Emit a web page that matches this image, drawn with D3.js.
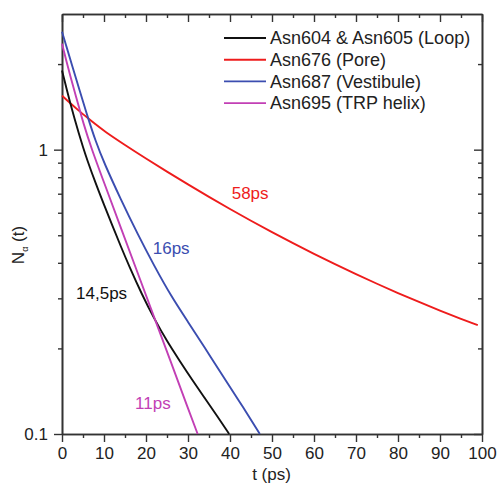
<!DOCTYPE html>
<html>
<head>
<meta charset="utf-8">
<script src="https://cdn.jsdelivr.net/npm/d3@7/dist/d3.min.js"></script>
<style>
  html, body { margin: 0; padding: 0; background: #fff; }
  svg { display: block; }
  text { font-family: "Liberation Sans", Arial, sans-serif; }
</style>
</head>
<body>
<svg id="chart" width="497" height="485"></svg>
<script>
// Survival curves N_alpha(t) of water around selected asparagine residues
const seriesNames = ["Asn604 & Asn605 (Loop)", "Asn676 (Pore)", "Asn687 (Vestibule)", "Asn695 (TRP helix)"];
const seriesColors = ["#111111", "#ee1c1c", "#3b4db0", "#c23fb5"];

const tLoop = [0, 1, 2, 3, 4, 5, 6, 8, 10, 12, 14, 16, 19, 22, 25, 28, 31, 34, 37, 39.8];
const nLoop = [1.9, 1.656, 1.452, 1.282, 1.14, 1.021, 0.92, 0.762, 0.64, 0.54, 0.457, 0.389, 0.31, 0.2535, 0.212, 0.181, 0.155, 0.1337, 0.1153, 0.1];

const tPore = [0, 2, 4, 6, 8, 10, 15, 20, 25, 30, 35, 40, 45, 50, 55, 60, 65, 70, 75, 80, 85, 90, 95, 99];
const nPore = [1.549, 1.455, 1.371, 1.297, 1.227, 1.164, 1.038, 0.931, 0.837, 0.7545, 0.682, 0.618, 0.5623, 0.5129, 0.469, 0.43, 0.3956, 0.3648, 0.3375, 0.313, 0.2912, 0.2717, 0.2541, 0.2415];

const tVest = [0, 1, 2, 3, 4, 6, 8, 10, 14, 18, 22, 26, 30, 34, 38, 42, 47.1];
const nVest = [2.6, 2.32, 2.07, 1.85, 1.65, 1.32, 1.07, 0.9, 0.668, 0.505, 0.389, 0.305, 0.248, 0.201, 0.1625, 0.132, 0.1];

const tTrp = [0, 1, 2, 3, 4, 5, 7, 10, 14, 18, 22, 26, 30, 32.3];
const nTrp = [2.36, 2.06, 1.81, 1.6, 1.42, 1.25, 1.01, 0.767, 0.532, 0.369, 0.256, 0.178, 0.123, 0.1];

// Lifetime annotations: text, anchor time and value
const lifeLabels = ["14,5ps", "58ps", "16ps", "11ps"];
const lifeT = [3.35, 40.4, 21.6, 17.4];
const lifeN = [0.3125, 0.702, 0.45, 0.128];

const xTicks = [0, 10, 20, 30, 40, 50, 60, 70, 80, 90, 100];
const xMinor = [5, 15, 25, 35, 45, 55, 65, 75, 85, 95];
const yTicks = [0.1, 1];
const yMinor = [0.2, 0.3, 0.4, 0.5, 0.6, 0.7, 0.8, 0.9, 2];

const svg = d3.select("#chart");
const x = d3.scaleLinear().domain([0, 100]).range([62, 482]);
const y = d3.scaleLog().domain([0.1, 3]).range([434, 14]);

const axisColor = "#333";
const textColor = "#222";

function styleAxis(g) {
  g.selectAll("path.domain").attr("stroke", axisColor).attr("stroke-width", 1.6);
  g.selectAll(".tick line").attr("stroke", axisColor).attr("stroke-width", 1.4);
  g.selectAll(".tick text").attr("fill", textColor)
    .style("font-family", '"Liberation Sans", Arial, sans-serif').style("font-size", "17px");
}

// bottom axis
const gB = svg.append("g").attr("transform", `translate(0,${y.range()[0]})`);
gB.call(d3.axisBottom(x).tickValues(xMinor).tickSize(4).tickFormat("").tickSizeOuter(0));
gB.append("g").call(d3.axisBottom(x).tickValues(xTicks).tickSize(8).tickPadding(5).tickFormat(d3.format("d")).tickSizeOuter(0));
styleAxis(gB);

// top axis (inward ticks)
const gT = svg.append("g").attr("transform", `translate(0,${y.range()[1]})`);
gT.call(d3.axisBottom(x).tickValues(xMinor).tickSize(4).tickFormat("").tickSizeOuter(0));
gT.append("g").call(d3.axisBottom(x).tickValues(xTicks).tickSize(8).tickFormat("").tickSizeOuter(0));
styleAxis(gT);

// left axis
const gL = svg.append("g").attr("transform", `translate(${x.range()[0]},0)`);
gL.call(d3.axisLeft(y).tickValues(yMinor).tickSize(4).tickFormat("").tickSizeOuter(0));
gL.append("g").call(d3.axisLeft(y).tickValues(yTicks).tickSize(8).tickPadding(6).tickFormat(d => d === 1 ? "1" : "0.1").tickSizeOuter(0));
styleAxis(gL);

// right axis (inward ticks)
const gR = svg.append("g").attr("transform", `translate(${x.range()[1]},0)`);
gR.call(d3.axisLeft(y).tickValues(yMinor).tickSize(4).tickFormat("").tickSizeOuter(0));
gR.append("g").call(d3.axisLeft(y).tickValues(yTicks).tickSize(8).tickFormat("").tickSizeOuter(0));
styleAxis(gR);

// curves
const series = [
  { t: tLoop, n: nLoop },
  { t: tPore, n: nPore },
  { t: tVest, n: nVest },
  { t: tTrp, n: nTrp }
];
const line = d3.line().x(d => x(d[0])).y(d => y(d[1])).curve(d3.curveBasis);
const drawOrder = [1, 0, 3, 2];
drawOrder.forEach(i => {
  const s = series[i];
  svg.append("path")
    .datum(s.t.map((t, k) => [t, s.n[k]]))
    .attr("fill", "none")
    .attr("stroke", seriesColors[i])
    .attr("stroke-width", 1.9)
    .attr("stroke-linejoin", "round")
    .attr("d", line);
});

// lifetime labels
lifeLabels.forEach((lab, i) => {
  svg.append("text")
    .attr("x", x(lifeT[i]))
    .attr("y", y(lifeN[i]))
    .attr("dy", "0.35em")
    .attr("fill", seriesColors[i])
    .style("font-size", "17px")
    .text(lab);
});

// legend
const leg = svg.append("g");
seriesNames.forEach((name, i) => {
  const ly = 38 + i * 21.7;
  leg.append("line").attr("x1", 224).attr("x2", 266).attr("y1", ly).attr("y2", ly)
    .attr("stroke", seriesColors[i]).attr("stroke-width", 1.9);
  leg.append("text").attr("x", 270).attr("y", ly).attr("dy", "0.35em")
    .attr("fill", textColor).style("font-size", "18px").text(name);
});

// axis titles
svg.append("text")
  .attr("x", (x.range()[0] + x.range()[1]) / 2 - 0.5)
  .attr("y", 480)
  .attr("text-anchor", "middle")
  .attr("fill", textColor)
  .style("font-size", "17px")
  .text("t (ps)");

const yTitle = svg.append("text")
  .attr("transform", "translate(24,245) rotate(-90)")
  .attr("text-anchor", "middle")
  .attr("fill", textColor)
  .style("font-size", "17px");
yTitle.append("tspan").text("N");
yTitle.append("tspan").attr("dy", 4).style("font-size", "9px").text("\u03b1");
yTitle.append("tspan").attr("dy", -4).text(" (t)");
</script>
</body>
</html>
